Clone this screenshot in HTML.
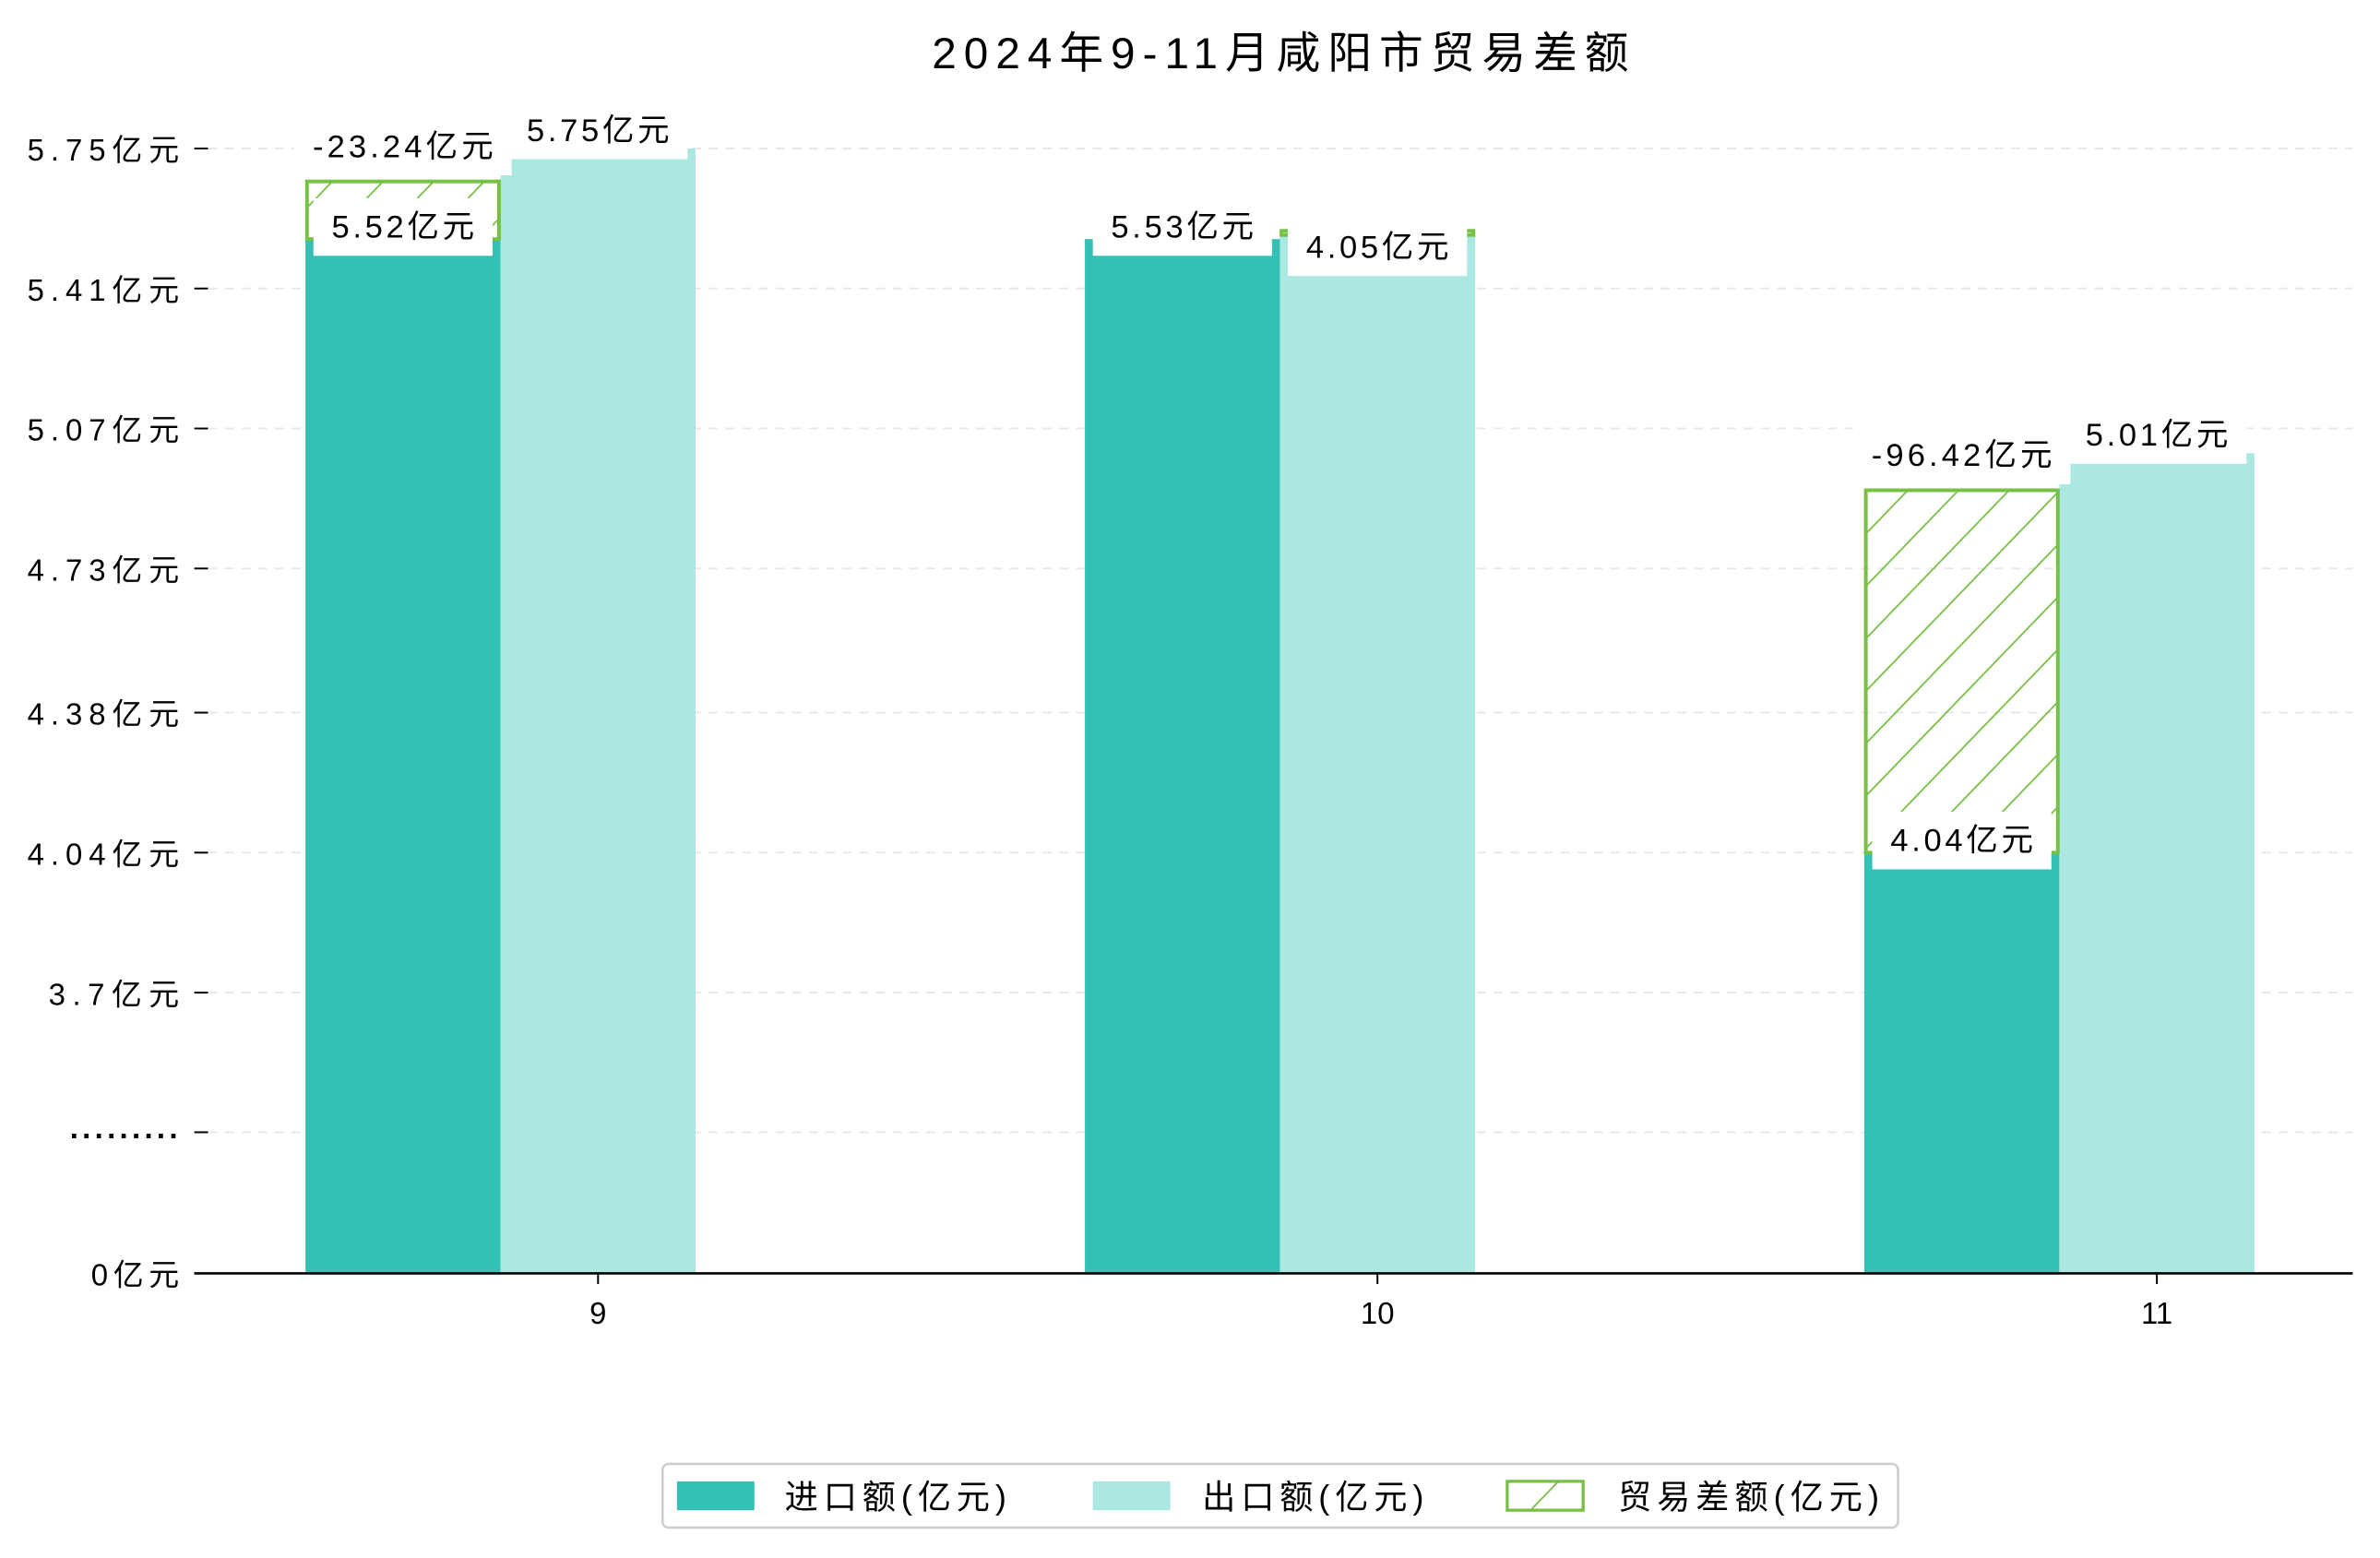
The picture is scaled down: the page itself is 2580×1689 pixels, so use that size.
<!DOCTYPE html>
<html><head><meta charset="utf-8">
<style>
html,body{margin:0;padding:0;background:#fff;}
svg{display:block;font-family:"Liberation Sans","Noto Sans CJK SC",sans-serif;}
</style></head>
<body>
<svg id="chart" width="2580" height="1689" viewBox="0 0 1568 1026.5" xmlns="http://www.w3.org/2000/svg">
<defs>
<pattern id="hatch" patternUnits="userSpaceOnUse" width="24" height="24" patternTransform="rotate(44)">
<line x1="0" y1="0" x2="0" y2="24" stroke="#76c043" stroke-width="2.2"/>
</pattern>
</defs>
<text x="614" y="45" font-size="29" textLength="459" lengthAdjust="spacing" fill="#000">2024年9-11月咸阳市贸易差额</text>
<g id="grid"></g>
<g id="bars"></g>
<g id="labels"></g>
<g id="axes"></g>
<g>
<rect x="436.5" y="964.5" width="814" height="42" rx="4" fill="#fff" stroke="#cccccc" stroke-width="1.5"/>
<rect x="446" y="976" width="51" height="19" fill="#32c1b4"/>
<text x="517" y="994" font-size="22" textLength="146" lengthAdjust="spacing">进口额(亿元)</text>
<rect x="720" y="976" width="51" height="19" fill="#abe8e2"/>
<text x="792" y="994" font-size="22" textLength="146" lengthAdjust="spacing">出口额(亿元)</text>
<rect x="993" y="976" width="50" height="19" fill="url(#hatch)" stroke="#76c043" stroke-width="2"/>
<text x="1066" y="994" font-size="22" textLength="172" lengthAdjust="spacing">贸易差额(亿元)</text>
</g>
</svg>
<script>
const categories = ["9", "10", "11"];
const importValues = [5.53, 5.53, 4.04];
const exportValues = [5.75, 5.54, 5.01];
const balanceTop = [5.67, 5.55, 4.92];
const balanceSlot = [0, 1, 0];
const importLabels = ["5.52亿元", "5.53亿元", "4.04亿元"];
const exportLabels = ["5.75亿元", "4.05亿元", "5.01亿元"];
const balanceLabels = ["-23.24亿元", "", "-96.42亿元"];
const tickValues = [3.7, 4.04, 4.38, 4.73, 5.07, 5.41, 5.75];
const tickLabels = ["3.7亿元", "4.04亿元", "4.38亿元", "4.73亿元", "5.07亿元", "5.41亿元", "5.75亿元"];

const NS = "http://www.w3.org/2000/svg";
const baseY = 839, breakY = 746;
function y(v){ return 654 - (v - 3.7) * 271.3; }
function xc(i){ return 394 + i * 513.5; }
const bw = 128.5;
function mk(tag, attrs, parent){ const e=document.createElementNS(NS,tag); for(const k in attrs) e.setAttribute(k,attrs[k]); parent.appendChild(e); return e; }
function tlen(txt, lat, cjk){ let w=0; for(const ch of txt){ w += /[\u4e00-\u9fff]/.test(ch) ? cjk : lat; } return w; }

const grid=document.getElementById('grid'), bars=document.getElementById('bars'), labels=document.getElementById('labels'), axes=document.getElementById('axes');

function gridAt(py){
  const g = mk('line',{x1:137,x2:1550,y1:py,y2:py,stroke:'#e8e8e8','stroke-width':1.2,'stroke-dasharray':'6,5'},grid);
  
  
}
function ytick(py, txt){
  const t = mk('line',{x1:128,x2:137,y1:py,y2:py,stroke:'#000','stroke-width':1.2},axes);
  
  
  const w = tlen(txt, 14, 22);
  const l = mk('text',{x:118-w,y:py+8,'font-size':20,textLength:w,lengthAdjust:'spacing'},axes);
  l.textContent = txt;
  
  
}
tickValues.forEach((v,i)=>{ gridAt(y(v)); ytick(y(v), tickLabels[i]); });
gridAt(breakY);
const bt = mk('line',{x1:128,x2:137,y1:breakY,y2:breakY,stroke:'#000','stroke-width':1.2},axes);


const bl = mk('text',{x:46,y:breakY+4,'font-size':20,'font-weight':'bold',textLength:71,lengthAdjust:'spacing'},axes);
bl.textContent = ".........";


ytick(baseY, "0亿元");

function label(cx, cy, txt){
  if(!txt) return;
  const tw = tlen(txt, 12.5, 22);
  const w = tw + 24;
  const r = mk('rect',{x:cx-w/2,y:cy-19,width:w,height:38,fill:'#fff'},labels);
  
  
  const t = mk('text',{x:cx-tw/2,y:cy+7,'font-size':21,textLength:tw,lengthAdjust:'spacing'},labels);
  t.textContent = txt;
  
  
}

categories.forEach((c,i)=>{
  const cx = xc(i);
  const imp = mk('rect',{x:cx-bw*1.5,y:y(importValues[i]),width:bw,height:baseY-y(importValues[i]),fill:'#32c1b4'},bars);
  
  
  const ex = mk('rect',{x:cx-bw/2,y:y(exportValues[i]),width:bw,height:baseY-y(exportValues[i]),fill:'#abe8e2'},bars);
  
  
  const bx = cx - bw*1.5 + balanceSlot[i]*bw;
  const base = balanceSlot[i]===0 ? importValues[i] : exportValues[i];
  const top = Math.min(y(balanceTop[i]), y(base));
  const h = Math.abs(y(base)-y(balanceTop[i]));
  const hb = mk('rect',{x:bx+1,y:top,width:bw-2,height:Math.max(h,1),fill:'url(#hatch)',stroke:'#76c043','stroke-width':2.4},bars);
  
  

  const xt = mk('line',{x1:cx,x2:cx,y1:baseY,y2:baseY+7,stroke:'#000','stroke-width':1.2},axes);
  
  
  const xl = mk('text',{x:cx,y:872,'text-anchor':'middle','font-size':20},axes);
  xl.textContent = c;
  
  

  label(cx - bw, y(importValues[i]) - 8, importLabels[i]);
  label(cx, y(exportValues[i]) + (i===1 ? 8 : -12), exportLabels[i]);
  label(cx - bw*1.5 + balanceSlot[i]*bw + bw/2, y(balanceTop[i]) - 23, balanceLabels[i]);
});

const ax = mk('line',{x1:128,x2:1550,y1:baseY,y2:baseY,stroke:'#000','stroke-width':1.6},axes);


</script>
</body></html>
